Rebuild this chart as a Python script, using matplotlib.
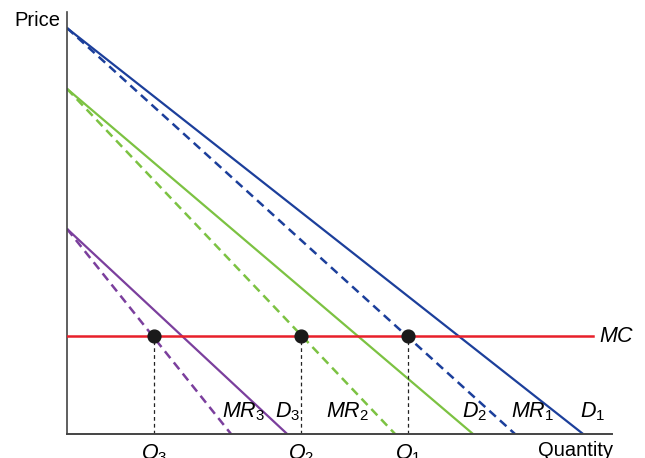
import numpy as np
import matplotlib.pyplot as plt

plt.rcParams['font.family'] = ['Liberation Sans', 'DejaVu Sans']
plt.rcParams['mathtext.fontset'] = 'custom'
plt.rcParams['mathtext.rm'] = 'Liberation Sans'
plt.rcParams['mathtext.it'] = 'Liberation Sans:italic'

# demand curves: price intercept, quantity intercept of D and MR
names = ['1', '2', '3']
price_icpt = [96.2, 81.8, 48.6]
d_icpt = [94.7, 74.5, 40.4]
mr_icpt = [82.2, 60.2, 30.1]
colors = ['#1c3f9b', '#7cc242', '#7b3f9d']
mc_level = 23.2
mc_end = 96.5
q_opt = [62.6, 42.9, 16.0]

# curve labels near the quantity axis
labels = ['$D_1$', '$MR_1$', '$D_2$', '$MR_2$', '$D_3$', '$MR_3$']
label_x = [94.1, 81.5, 72.5, 47.5, 38.2, 28.4]

fig = plt.figure(figsize=(6.45, 4.58), dpi=100)
ax = fig.add_axes([67 / 645, 24 / 458, 545 / 645, 422 / 458])
ax.set_xlim(0, 100)
ax.set_ylim(0, 100)

for i in range(3):
    ax.plot([0, d_icpt[i]], [price_icpt[i], 0], color=colors[i], lw=1.6, solid_capstyle='butt')
    ax.plot([0, mr_icpt[i]], [price_icpt[i], 0], color=colors[i], lw=1.8,
            dashes=(3.5, 2.2), dash_capstyle='butt')

ax.plot([0, mc_end], [mc_level, mc_level], color='#e8202a', lw=1.8, zorder=3)

for q in q_opt:
    ax.plot([q, q], [0, mc_level], color='#222222', lw=0.9, dashes=(3, 2.5), zorder=2)
ax.scatter(q_opt, [mc_level] * 3, s=85, color='#1a1a1a', zorder=5)

fs = 15.5
ax.text(mc_end + 1.2, mc_level, '$MC$', fontsize=fs, va='center', ha='left')
for lab, lx in zip(labels, label_x):
    ax.text(lx, 4.0, lab, fontsize=fs, ha='left', va='baseline')

for i, q in enumerate(q_opt):
    ax.text(q, -1.9, '$Q_' + names[i] + '$', fontsize=fs, ha='center', va='top')

ax.text(100.2, -1.6, 'Quantity', fontsize=14.5, ha='right', va='top')
ax.text(-1.3, 98.1, 'Price', fontsize=14.5, ha='right', va='center')

for s in ['top', 'right']:
    ax.spines[s].set_visible(False)
ax.spines['left'].set_color('#444444')
ax.spines['bottom'].set_color('#444444')
ax.spines['left'].set_linewidth(1.2)
ax.spines['bottom'].set_linewidth(1.4)
ax.set_xticks([])
ax.set_yticks([])

fig.savefig('out.png', dpi=100)
